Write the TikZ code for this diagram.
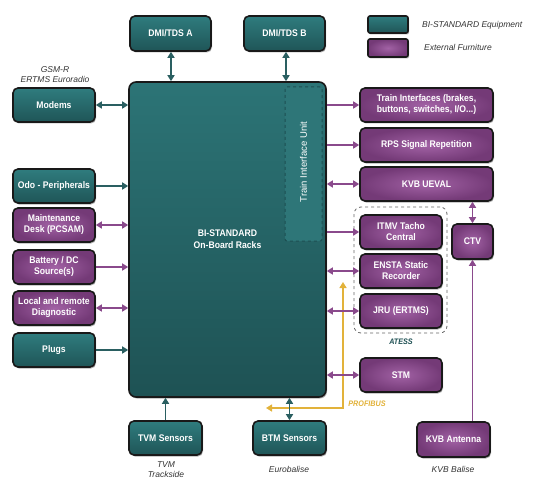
\documentclass[tikz,border=0pt]{standalone}
\usepackage{fontspec}
\setmainfont{Liberation Sans}
\newfontfamily\boxfont{Liberation Sans}[FakeStretch=0.9]
\usetikzlibrary{arrows.meta,shadows,calc}
\definecolor{tealT}{HTML}{2F7C7E}
\definecolor{tealB}{HTML}{1F5557}
\definecolor{mainT}{HTML}{2C7476}
\definecolor{mainB}{HTML}{1E5254}
\definecolor{tiuFill}{HTML}{2E7678}
\definecolor{purpI}{HTML}{A262A5}
\definecolor{purpO}{HTML}{743A77}
\definecolor{tealA}{HTML}{2A5F61}
\definecolor{purpA}{HTML}{8A4A8C}
\definecolor{yel}{HTML}{E2B23A}
\definecolor{lbl}{HTML}{333333}
\definecolor{atessc}{HTML}{1D4F52}
\begin{document}
\begin{tikzpicture}[x=1pt,y=-1pt,
  base/.style={rounded corners=5pt, draw=black!90, line width=1.6pt, text=white,
    font=\boxfont\bfseries\fontsize{9.6}{11}\selectfont, align=center, inner sep=1pt,
    drop shadow={shadow xshift=1pt, shadow yshift=-1.5pt, opacity=0.3, fill=black}},
  tealbox/.style={base, top color=tealT, bottom color=tealB},
  purplebox/.style={base, inner color=purpI, outer color=purpO},
  bsize/.style 2 args={minimum width=#1, minimum height=#2},
  lab/.style={font=\itshape\fontsize{8.5}{10}\selectfont, text=lbl, align=center, inner sep=0pt},
  tip/.tip={Triangle[length=6pt,width=7pt]},
  tone/.style={draw=tealA, line width=1.9pt, -tip},
  ttwo/.style={draw=tealA, line width=1.9pt, tip-tip},
  pone/.style={draw=purpA, line width=1.9pt, -tip},
  ptwo/.style={draw=purpA, line width=1.9pt, tip-tip},
]
\useasboundingbox (0,0) rectangle (543,492);

% legend
\node[tealbox, bsize={40pt}{17pt}, rounded corners=2pt] (legT) at (388,24.5) {};
\node[purplebox, bsize={40pt}{18pt}, rounded corners=2pt] (legP) at (388,48) {};
\node[lab, anchor=west] (legTl) at (422,25) {BI-STANDARD Equipment};
\node[lab, anchor=west] (legPl) at (424,47) {External Furniture};

% main box
\node[base, top color=mainT, bottom color=mainB, bsize={197pt}{315pt}, rounded corners=7pt] (main) at (227.5,239.5) {};
\node[text=white, font=\boxfont\bfseries\fontsize{9.6}{12}\selectfont, align=center] (mainl) at (227.5,239) {BI-STANDARD\\On-Board Racks};
\node[draw=atessc, dashed, fill=tiuFill, line width=1pt, rounded corners=2pt, minimum width=37pt, minimum height=154pt] (tiu) at (303.5,164) {};
\node[rotate=90, text=white, font=\fontsize{9.5}{11}\selectfont] (tiul) at (303.5,162) {Train Interface Unit};

% ATESS group
\node[draw=black!60, dashed, line width=0.8pt, rounded corners=7pt, minimum width=93pt, minimum height=126pt] (atess) at (400.5,270) {};
\node[font=\boxfont\bfseries\itshape\fontsize{8}{10}\selectfont, text=atessc] (atessl) at (401,342) {ATESS};

% top
\node[tealbox, bsize={81pt}{35pt}] (dmiA) at (170.5,33.5) {DMI/TDS A};
\node[tealbox, bsize={81pt}{35pt}] (dmiB) at (284.5,33.5) {DMI/TDS B};

% left
\node[lab] (gsm) at (55,74.5) {GSM-R\\ERTMS Euroradio};
\node[tealbox, bsize={82pt}{34pt}] (modems) at (54,105) {Modems};
\node[tealbox, bsize={82pt}{34pt}] (odo) at (54,186) {Odo - Peripherals};
\node[purplebox, bsize={82pt}{34pt}] (maint) at (54,225) {Maintenance\\Desk (PCSAM)};
\node[purplebox, bsize={82pt}{34pt}] (batt) at (54,267) {Battery / DC\\Source(s)};
\node[purplebox, bsize={82pt}{34pt}] (local) at (54,308) {Local and remote\\Diagnostic};
\node[tealbox, bsize={82pt}{34pt}] (plugs) at (54,350) {Plugs};

% right
\node[purplebox, bsize={133pt}{34pt}] (train) at (426.5,105) {Train Interfaces (brakes,\\buttons, switches, I/O...)};
\node[purplebox, bsize={133pt}{34pt}] (rps) at (426.5,145) {RPS Signal Repetition};
\node[purplebox, bsize={133pt}{34pt}] (kvbu) at (426.5,184) {KVB UEVAL};
\node[purplebox, bsize={82pt}{34pt}] (itmv) at (401,232) {ITMV Tacho\\Central};
\node[purplebox, bsize={82pt}{34pt}] (ensta) at (401,271) {ENSTA Static\\Recorder};
\node[purplebox, bsize={82pt}{34pt}] (jru) at (401,311) {JRU (ERTMS)};
\node[purplebox, bsize={82pt}{34pt}] (stm) at (401,375) {STM};
\node[purplebox, bsize={41pt}{35pt}] (ctv) at (472.5,241.5) {CTV};

% bottom
\node[tealbox, bsize={73pt}{34pt}] (tvm) at (165.5,438) {TVM Sensors};
\node[tealbox, bsize={73pt}{34pt}] (btm) at (289.5,438) {BTM Sensors};
\node[purplebox, bsize={73pt}{35pt}] (kvba) at (453.5,439.5) {KVB Antenna};
\node[lab] (tvml) at (166,469.5) {TVM\\Trackside};
\node[lab] (eurol) at (289,469) {Eurobalise};
\node[lab] (kvbl) at (453,469) {KVB Balise};

% PROFIBUS
\coordinate (pTop) at (343,282);
\coordinate (pCorner) at (343,408);
\coordinate (pEnd) at (266,408);
\draw[draw=yel, line width=1.9pt, tip-tip] (pTop) -- (pCorner) -- (pEnd);
\node[font=\boxfont\bfseries\itshape\fontsize{8}{10}\selectfont, text=yel] (prof) at (367,404) {PROFIBUS};

% connectors
\draw[ttwo] (dmiA.south -| 171,0) -- (main.north -| 171,0);
\draw[ttwo] (dmiB.south -| 286,0) -- (main.north -| 286,0);
\draw[ttwo] (modems.east) -- (main.west |- modems.east);
\draw[tone] (odo.east) -- (main.west |- odo.east);
\draw[ptwo] (maint.east) -- (main.west |- maint.east);
\draw[pone] (batt.east) -- (main.west |- batt.east);
\draw[ptwo] (local.east) -- (main.west |- local.east);
\draw[tone] (plugs.east) -- (main.west |- plugs.east);

\draw[pone] (main.east |- train.west) -- (train.west);
\draw[pone] (main.east |- rps.west) -- (rps.west);
\draw[ptwo] (main.east |- kvbu.west) -- (kvbu.west);
\draw[pone] (main.east |- itmv.west) -- (itmv.west);
\draw[ptwo] (main.east |- ensta.west) -- (ensta.west);
\draw[ptwo] (main.east |- jru.west) -- (jru.west);
\draw[ptwo] (main.east |- stm.west) -- (stm.west);

\draw[ptwo] (kvbu.south -| ctv.north) -- (ctv.north);
\draw[pone] (kvba.north -| ctv.south) -- (ctv.south);

\draw[tone] (tvm.north) -- (main.south -| tvm.north);
\draw[ttwo] (btm.north) -- (main.south -| btm.north);
\end{tikzpicture}
\end{document}
